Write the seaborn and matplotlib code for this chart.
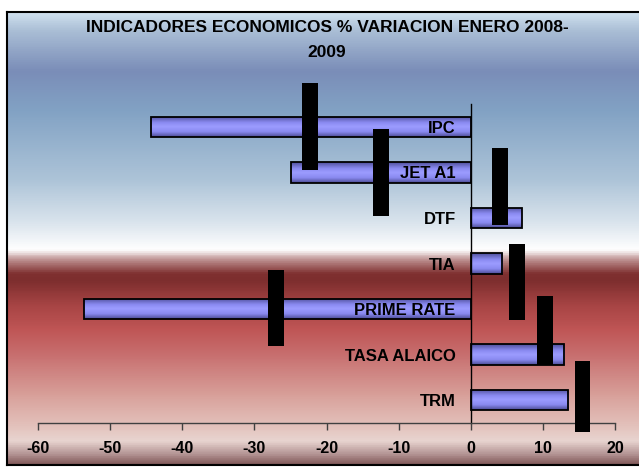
import numpy as np
import pandas as pd
import matplotlib
matplotlib.use("Agg")
import matplotlib.pyplot as plt
import matplotlib.transforms as mtransforms
import seaborn as sns
from matplotlib.colors import LinearSegmentedColormap

# datos
indicadores = ['IPC', 'JET A1', 'DTF', 'TIA', 'PRIME RATE', 'TASA ALAICO', 'TRM']
variacion = [-44.3, -24.9, 7.05, 4.3, -53.6, 12.9, 13.5]
# cajas negras de etiqueta (x del centro, extremos respecto a la barra)
etiqueta_x = [-22.3, -12.5, 4.0, 6.4, -27.0, 10.3, 15.5]
etiqueta_arriba = [-0.96, -0.96, -1.54, -0.43, -0.86, -1.29, -0.87]
etiqueta_abajo = [0.94, 0.95, 0.15, 1.25, 0.82, 0.22, 0.69]
xticks = [-60, -50, -40, -30, -20, -10, 0, 10, 20]

df = pd.DataFrame({'indicador': indicadores, 'variacion': variacion})

sns.set_style('white')
plt.rcParams['font.family'] = ['Liberation Sans', 'DejaVu Sans']
plt.rcParams['text.color'] = 'black'
plt.rcParams['xtick.color'] = 'black'
plt.rcParams['ytick.color'] = 'black'

fig = plt.figure(figsize=(6.39, 4.68), dpi=100)
fig.patch.set_facecolor('white')

# fondo degradado
W, H = 639, 468
bg = fig.add_axes([7 / W, 3 / H, 1 - 7 / W, 453 / H])
stops = [(0.0, '#cfe0ee'), (0.04, '#a9bdd5'), (0.128, '#7a8db8'), (0.216, '#82a2c4'),
         (0.37, '#adc4d8'), (0.47, '#dde6ee'), (0.524, '#ffffff'), (0.55, '#b88888'),
         (0.578, '#7f3030'), (0.593, '#7d2e2e'), (0.65, '#a84545'), (0.702, '#bf5555'),
         (0.76, '#c87070'), (0.848, '#d8a09a'), (0.92, '#e4c4be'), (0.95, '#e8d4d0'),
         (0.98, '#b09090'), (1.0, '#805858')]
cmap = LinearSegmentedColormap.from_list('fondo', stops)
bg.imshow(np.linspace(0, 1, 500).reshape(-1, 1), cmap=cmap, aspect='auto',
          extent=[0, 1, 1, 0], interpolation='bilinear')
bg.set_xticks([])
bg.set_yticks([])
for s in ['left', 'top', 'bottom']:
    bg.spines[s].set_color('black')
    bg.spines[s].set_linewidth(1.5)
bg.spines['right'].set_visible(False)

ax = fig.add_axes([38 / W, 45 / H, 577 / W, 319 / H])
ax.set_facecolor('none')
sns.barplot(data=df, x='variacion', y='indicador', orient='h', color='#9494f6',
            saturation=1, edgecolor='black', linewidth=1.3, width=0.45, ax=ax)

# sombreado de las barras (mas oscuro arriba y abajo)
barras = list(ax.patches)
cmap_barra = LinearSegmentedColormap.from_list(
    'barra', [(0, '#50509c'), (0.3, '#8a8af0'), (0.5, '#9c9cff'), (0.75, '#8a8af0'), (1, '#4c4c96')])
grad = np.linspace(0, 1, 50).reshape(-1, 1)
for b in barras:
    x0, y0 = b.get_x(), b.get_y()
    x1, y1 = x0 + b.get_width(), y0 + b.get_height()
    im = ax.imshow(grad, cmap=cmap_barra, aspect='auto', interpolation='bilinear',
                   extent=[min(x0, x1), max(x0, x1), max(y0, y1), min(y0, y1)],
                   zorder=1.5)
    im.set_clip_path(b)
    b.set_facecolor('none')
    b.set_zorder(2)

pos = np.arange(len(indicadores))
base = pos + np.array(etiqueta_arriba)
alto = np.array(etiqueta_abajo) - np.array(etiqueta_arriba)
ax.bar(etiqueta_x, alto, bottom=base, width=2.2, color='black', edgecolor='none',
       linewidth=0, zorder=4, clip_on=False)

ax.set_xlim(-60, 20)
ax.set_ylim(6.5, -0.5)
ax.set_xticks(xticks, labels=[str(t) for t in xticks], fontsize=11.5, fontweight='bold')
ax.set_yticks(pos, labels=[''] * len(pos))
ax.tick_params(axis='x', bottom=True, direction='out', length=5, width=1,
               color='#404040', labelcolor='black', pad=8)
ax.tick_params(axis='y', left=False, length=0)
ax.set_axisbelow(False)
ax.set_xlabel('')
ax.set_ylabel('')

# nombres de los indicadores junto al eje vertical
trans = mtransforms.offset_copy(ax.transData, fig=fig, x=-15, y=0, units='dots')
for p, nombre in zip(pos, indicadores):
    ax.text(0, p, nombre, transform=trans, ha='right', va='center_baseline',
            fontsize=12, fontweight='bold', color='black', zorder=3)

ax.spines['left'].set_position(('data', 0))
ax.spines['left'].set_color('black')
ax.spines['left'].set_linewidth(1)
ax.spines['bottom'].set_color('#404040')
ax.spines['bottom'].set_linewidth(1)
ax.spines['top'].set_visible(False)
ax.spines['right'].set_visible(False)

fig.text(327 / W, 1 - 40 / H, 'INDICADORES ECONOMICOS % VARIACION ENERO 2008-\n2009',
         ha='center', va='center', fontsize=12.5, fontweight='bold', linespacing=1.9,
         color='black')

fig.savefig('out.png', dpi=100)
